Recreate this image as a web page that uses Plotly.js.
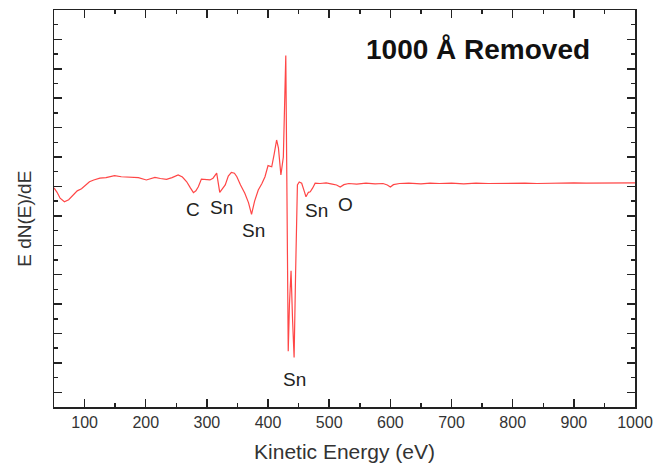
<!DOCTYPE html>
<html>
<head>
<meta charset="utf-8">
<script src="https://cdn.plot.ly/plotly-3.0.1.min.js"></script>
<style>html,body{margin:0;padding:0;background:#fff;}#chart{width:658px;height:464px;}</style>
</head>
<body>
<div id="chart"></div>
<script>
// Kinetic energy (eV)
const energy = [50,55,60,67,74,81,88,95,100,108,115,125,135,149,160,174,188,201,208,215,224,234,243,253,260,267,273,278,282,286,291,298,305,310,316,321,325,330,335,340,345,349,355,362,368,373,378,384,390,395,400,406,410,414,417,421,425,427,429,431,433,435,437.6,440,442.6,445,448,451,455,459,462,466,469,473,477,485,495,505,512,518,524,532,545,560,575,588,595,600,605,615,630,650,665,680,700,720,740,760,780,800,820,840,860,880,900,920,940,960,980,1000];
// E dN(E)/dE (arbitrary units)
const signal = [6.95,6.80,6.60,6.48,6.55,6.71,6.85,6.92,7.00,7.16,7.22,7.28,7.30,7.37,7.33,7.31,7.30,7.22,7.26,7.31,7.27,7.24,7.30,7.39,7.32,7.16,6.95,6.79,6.85,6.99,7.25,7.24,7.22,7.28,7.45,6.80,6.90,7.05,7.35,7.48,7.45,7.33,7.05,6.77,6.45,6.05,6.50,6.88,7.10,7.33,7.71,7.67,8.10,8.58,8.30,7.39,8.00,10.0,11.45,6.5,1.40,3.0,4.13,2.5,1.18,4.0,7.05,7.15,7.11,6.85,6.65,6.80,6.82,6.95,7.11,7.10,7.12,7.08,7.05,6.98,7.06,7.10,7.08,7.11,7.09,7.10,7.05,6.98,7.06,7.10,7.11,7.09,7.11,7.10,7.11,7.09,7.11,7.10,7.11,7.10,7.11,7.10,7.11,7.10,7.12,7.11,7.11,7.12,7.12,7.12];
// Peak labels
const labelText = ["C","Sn","Sn","Sn","Sn","O"];
const labelX = [277,324.6,375.4,442.6,480,526];
const labelY = [6.20,6.27,5.49,0.42,6.17,6.37];
const chartTitle = "1000 Å Removed";
const titleX = 744, titleY = 11.64;
const yTitle = "E dN(E)/dE";
const xTitle = "Kinetic Energy (eV)";

const FONT = 'Liberation Sans, Arial, sans-serif';

const annotations = labelText.map((t,i)=>({
  text:t, x:labelX[i], y:labelY[i], xref:'x', yref:'y', showarrow:false,
  xanchor:'center', yanchor:'middle',
  font:{family:FONT, size:19, color:'#222'}
}));
annotations.push({
  text:'<b>'+chartTitle+'</b>', x:titleX, y:titleY, xref:'x', yref:'y', showarrow:false,
  xanchor:'center', yanchor:'middle',
  font:{family:FONT, size:28, color:'#111'}
});
annotations.push({
  text:yTitle, x:-0.05, y:0.474, xref:'paper', yref:'paper', showarrow:false,
  xanchor:'center', yanchor:'middle', textangle:-90,
  font:{family:FONT, size:19, color:'#333'}
});

const trace = {
  x: energy, y: signal, type:'scatter', mode:'lines',
  line:{color:'rgb(255,70,70)', width:1.2},
  hoverinfo:'skip'
};

const axisCommon = {
  showgrid:false, zeroline:false, showline:true, linecolor:'#222', linewidth:1.5,
  mirror:'ticks', ticks:'inside', ticklen:8, tickwidth:1.5, tickcolor:'#222'
};

const layout = {
  width:658, height:464,
  margin:{l:54, r:23, t:10, b:57},
  paper_bgcolor:'#fff', plot_bgcolor:'#fff',
  showlegend:false,
  font:{family:FONT, color:'#333'},
  xaxis: Object.assign({}, axisCommon, {
    range:[50,1000], tick0:0, dtick:100,
    tickfont:{size:16, color:'#333'},
    minor:{dtick:50, ticks:'inside', ticklen:4, tickwidth:1.5, tickcolor:'#222'},
    title:{text:xTitle, font:{size:21, color:'#333'}, standoff:14}
  }),
  yaxis: Object.assign({}, axisCommon, {
    range:[-0.5,13.0], tick0:0, dtick:1, showticklabels:false,
    minor:{dtick:0.5, ticks:'inside', ticklen:4, tickwidth:1.5, tickcolor:'#222'}
  }),
  annotations: annotations
};

Plotly.newPlot('chart',[trace],layout,{displayModeBar:false, staticPlot:true});
</script>
</body>
</html>
